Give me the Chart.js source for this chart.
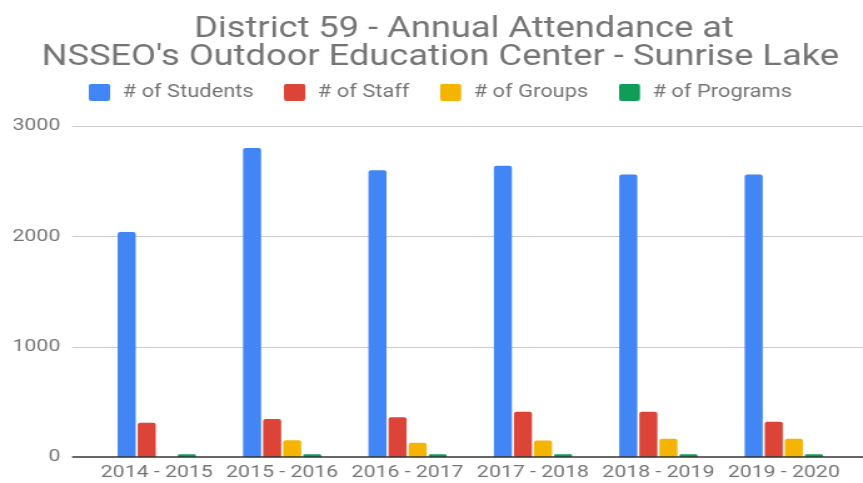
<!DOCTYPE html>
<html>
<head>
<meta charset="utf-8">
<script src="https://cdn.jsdelivr.net/npm/chart.js@4"></script>
<style>
html, body { margin: 0; background: #fff; }
canvas { display: block; }
</style>
</head>
<body>
<!-- drawn narrow and stretched wide, like the source picture -->
<canvas id="attendance" width="690" height="483" style="width:863px;height:483px"></canvas>
<script>
var school_years = ['2014 - 2015', '2015 - 2016', '2016 - 2017', '2017 - 2018', '2018 - 2019', '2019 - 2020']
var students = [2040, 2800, 2600, 2640, 2560, 2560]
var staff = [310, 345, 360, 410, 410, 320]
var groups = [0, 152, 130, 150, 165, 165]
var programs = [25, 25, 25, 25, 25, 25]
var y_ticks = [0, 1000, 2000, 3000]

var colors = {
    blue: '#4285f4',
    red: '#db4437',
    yellow: '#f4b400',
    green: '#0f9d58',
    text: '#757575',
    grid: '#cccccc',
    baseline: '#333333'
}

Chart.defaults.font.family = 'Roboto'

// legend swatch, a little wider than the square so the text sits further off
function make_swatch(color) {
    var c = document.createElement('canvas')
    c.width = 18.5
    c.height = 17
    var ctx = c.getContext('2d')
    ctx.fillStyle = color
    ctx.beginPath()
    ctx.roundRect(0, 0, 17, 17, 2)
    ctx.fill()
    return c
}

var swatches = [make_swatch(colors.blue), make_swatch(colors.red), make_swatch(colors.yellow), make_swatch(colors.green)]

function bar_set(label, data, color) {
    return {
        label: label,
        data: data,
        backgroundColor: color,
        borderRadius: 2,
        borderSkipped: 'start',
        barPercentage: 0.9,
        categoryPercentage: 0.64
    }
}

var grid_plugin = {
    id: 'wide_grid',
    beforeInit: function(chart) {
        var fit = chart.legend.fit
        chart.legend.fit = function() {
            fit.bind(chart.legend)()
            this.height += 15
        }
    },
    afterLayout: function(chart) {
        // tick labels right aligned a bit left of the plot, free of the clip box
        chart.scales.y.left = 0
        chart.scales.y.right = chart.chartArea.left - 27
        // first title line sits a little right of centre in the source
        chart.titleBlock.left += 38
    },
    beforeDatasetsDraw: function(chart) {
        var ctx = chart.ctx
        var y = chart.scales.y
        var area = chart.chartArea
        ctx.save()
        ctx.strokeStyle = colors.grid
        ctx.lineWidth = 1
        y_ticks.forEach(function(v) {
            if (v == 0) return
            var py = Math.round(y.getPixelForValue(v)) + 0.5
            ctx.beginPath()
            ctx.moveTo(area.left - 17.6, py)
            ctx.lineTo(chart.width, py)
            ctx.stroke()
        })
        ctx.restore()
    },
    afterDatasetsDraw: function(chart) {
        var ctx = chart.ctx
        var y = chart.scales.y
        var area = chart.chartArea
        var py = y.getPixelForValue(0)
        ctx.save()
        ctx.strokeStyle = colors.baseline
        ctx.lineWidth = 1.5
        ctx.beginPath()
        ctx.moveTo(area.left - 17.6, py)
        ctx.lineTo(chart.width, py)
        ctx.stroke()
        ctx.restore()
    }
}

new Chart(document.getElementById('attendance'), {
    type: 'bar',
    data: {
        labels: school_years,
        datasets: [
            bar_set('# of Students', students, colors.blue),
            bar_set('# of Staff', staff, colors.red),
            bar_set('# of Groups', groups, colors.yellow),
            bar_set('# of Programs', programs, colors.green)
        ]
    },
    options: {
        responsive: false,
        devicePixelRatio: 1,
        animation: false,
        layout: { padding: { left: 27.2, right: 13.2, top: 0, bottom: -6.4 } },
        plugins: {
            title: {
                display: true,
                text: 'District 59 - Annual Attendance at',
                color: colors.text,
                font: { size: 29, weight: 'normal', lineHeight: '28px' },
                padding: { top: 16, bottom: 0 }
            },
            subtitle: {
                display: true,
                text: "NSSEO's Outdoor Education Center - Sunrise Lake",
                color: colors.text,
                font: { size: 29, weight: 'normal', lineHeight: '28px' },
                padding: { top: 0, bottom: -12.5 }
            },
            legend: {
                position: 'top',
                labels: {
                    usePointStyle: true,
                    pointStyleWidth: 18.5,
                    padding: 24,
                    color: colors.text,
                    font: { size: 17.5 },
                    generateLabels: function(chart) {
                        var items = Chart.defaults.plugins.legend.labels.generateLabels(chart)
                        items.forEach(function(item, i) {
                            item.pointStyle = swatches[i]
                        })
                        return items
                    }
                }
            },
            tooltip: { enabled: false }
        },
        scales: {
            x: {
                grid: { display: false, drawTicks: false },
                border: { display: false },
                ticks: { color: colors.text, font: { size: 17 }, padding: 6, maxRotation: 0 }
            },
            y: {
                min: 0,
                max: 3000,
                grid: { display: false, drawTicks: false },
                border: { display: false },
                ticks: {
                    stepSize: 1000,
                    color: colors.text,
                    font: { size: 17 },
                    padding: 0,
                    callback: function(value) {
                        return String(value)
                    }
                },
                afterFit: function(scale) {
                    scale.width = 48
                }
            }
        }
    },
    plugins: [grid_plugin]
})
</script>
</body>
</html>
